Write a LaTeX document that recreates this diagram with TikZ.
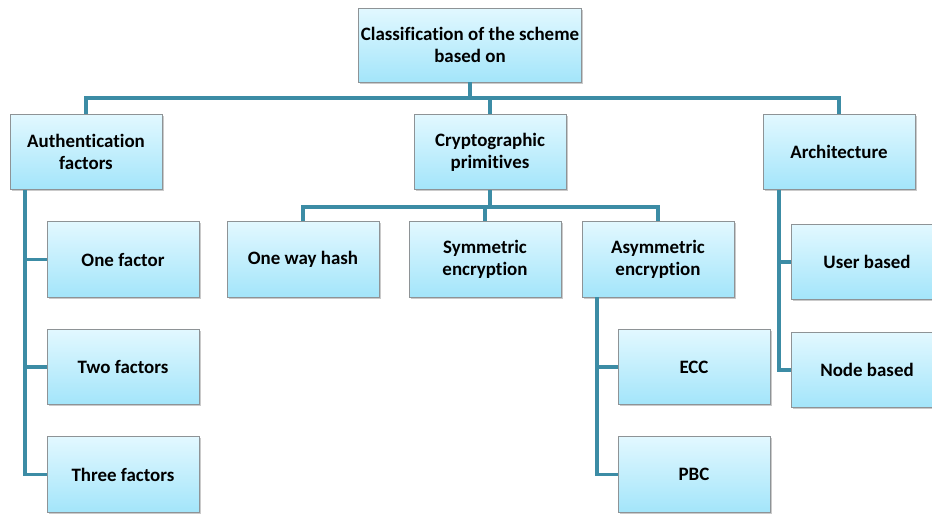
\documentclass[tikz,border=0pt]{standalone}
\usepackage{fontspec}
\setmainfont{Carlito}[Ligatures={NoCommon}]
\usetikzlibrary{shadows}
\definecolor{linkteal}{HTML}{3C8CA5}
\definecolor{boxtop}{HTML}{E2F8FF}
\definecolor{boxbottom}{HTML}{A3E5FA}
\definecolor{boxedge}{HTML}{8E9396}
\tikzset{
  catbox/.style={rectangle, draw=boxedge, line width=0.6pt,
    top color=boxtop, bottom color=boxbottom,
    minimum width=114pt, minimum height=56.5pt, inner sep=2pt,
    align=center, font=\fontsize{14.2}{16.5}\selectfont\bfseries,
    drop shadow={shadow xshift=1.2pt, shadow yshift=-1.2pt, opacity=0.35, fill=black!60}},
  link/.style={draw=linkteal, line width=2.4pt}
}
\begin{document}
\begin{tikzpicture}[x=0.75pt, y=-0.75pt]
  \useasboundingbox (0,0) rectangle (932,514);
  \clip (0,0) rectangle (932,514);

  % root and first level
  \node[catbox, minimum width=166.5pt, minimum height=55.5pt] (root) at (470,45) {Classification of the scheme\\based on};
  \node[catbox] (auth)   at (86,152)  {Authentication\\factors};
  \node[catbox] (crypto) at (490,152) {Cryptographic\\primitives};
  \node[catbox] (arch)   at (839,152) {Architecture};

  % authentication factors
  \node[catbox] (one)   at (123,259.5) {One factor};
  \node[catbox] (two)   at (123,367)   {Two factors};
  \node[catbox] (three) at (123,474.5) {Three factors};

  % cryptographic primitives
  \node[catbox] (hash) at (303,259.5) {One way hash};
  \node[catbox] (sym)  at (485,259.5) {Symmetric\\encryption};
  \node[catbox] (asym) at (658,259.5) {Asymmetric\\encryption};
  \node[catbox] (ecc)  at (694,367)   {ECC};
  \node[catbox] (pbc)  at (694,474.5) {PBC};

  % architecture
  \node[catbox] (user)  at (867,262) {User based};
  \node[catbox] (nodeb) at (867,370) {Node based};

  % bus lines
  \coordinate (bus)  at (470,98);
  \coordinate (cbus) at (490,207);
  \coordinate (atrunk) at (25,190);
  \coordinate (strunk) at (597,297);
  \coordinate (rtrunk) at (779,190);

  % top level connectors
  \draw[link] (root.south) -- (bus);
  \draw[link] (auth.north) |- (bus) -| (arch.north);
  \draw[link] (crypto.north) -- (crypto.north |- bus);

  % crypto connectors
  \draw[link] (crypto.south) -- (cbus);
  \draw[link] (hash.north) |- (cbus) -| (asym.north);
  \draw[link] (sym.north) -- (sym.north |- cbus);

  % authentication trunk
  \draw[link] (atrunk) |- (three.west);
  \draw[link] (atrunk |- one.west) -- (one.west);
  \draw[link] (atrunk |- two.west) -- (two.west);

  % asymmetric trunk
  \draw[link] (strunk) |- (pbc.west);
  \draw[link] (strunk |- ecc.west) -- (ecc.west);

  % architecture trunk
  \draw[link] (rtrunk) |- (nodeb.west);
  \draw[link] (rtrunk |- user.west) -- (user.west);
\end{tikzpicture}
\end{document}
